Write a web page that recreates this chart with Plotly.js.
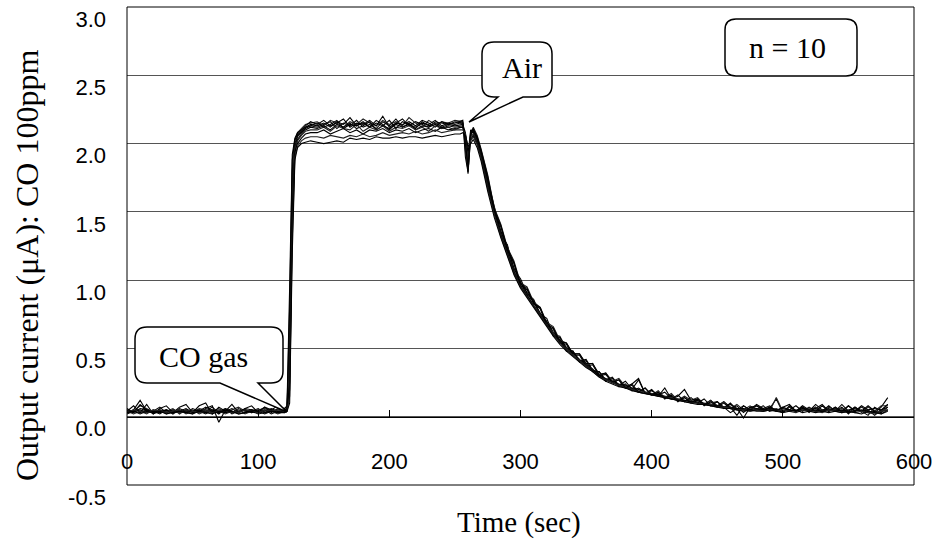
<!DOCTYPE html>
<html>
<head>
<meta charset="utf-8">
<script src="https://cdn.plot.ly/plotly-3.0.1.min.js"></script>
<style>html,body{margin:0;padding:0;background:#fff;}#chart{width:936px;height:542px;}</style>
</head>
<body>
<div id="chart"></div>
<script>
// Time (sec)
const timeSec = [0,5,10,15,20,25,30,35,40,45,50,55,60,65,70,75,80,85,90,95,100,105,110,115,120,
122,124,126,128,130,133,136,140,
145,150,155,160,165,170,175,180,185,190,195,200,205,210,215,220,225,230,235,240,245,250,254,
256,258,260,262,264,267,270,
275,280,285,290,295,300,305,310,315,320,325,330,335,340,345,350,355,360,365,370,375,380,385,390,395,400,405,410,415,420,425,430,435,440,445,450,455,460,465,470,475,480,485,490,495,500,505,510,515,520,525,530,535,540,545,550,555,560,565,570,575,580];

// Output current (uA), ten runs
const run1 = [0.03,0.05,0.12,0.04,0.03,0.05,0.02,0.04,0.03,0.05,0.04,0.03,0.06,0.08,-0.04,0.05,0.03,0.06,0.04,0.05,0.03,0.04,0.06,0.04,0.05,
0.06,0.45,1.70,2.00,2.06,2.09,2.12,2.14,
2.13,2.15,2.12,2.16,2.14,2.19,2.13,2.15,2.12,2.17,2.14,2.10,2.15,2.18,2.13,2.16,2.14,2.12,2.16,2.15,2.14,2.16,2.15,
2.15,2.02,1.78,2.06,2.11,2.04,1.94,
1.73,1.55,1.35,1.25,1.08,1.01,0.90,0.86,0.75,0.72,0.60,0.59,0.50,0.48,0.41,0.42,0.34,0.33,0.27,0.29,0.23,0.26,0.20,0.27,0.17,0.19,0.16,0.18,0.13,0.15,0.20,0.12,0.13,0.09,0.12,0.08,0.11,0.07,0.01,0.08,0.05,0.08,0.05,0.06,0.13,0.03,0.07,0.04,0.08,0.05,0.06,0.09,0.04,0.07,0.03,0.08,0.04,0.07,0.04,0.03,0.07,0.14];
const run2 = [0.04,0.03,0.06,0.05,0.02,0.04,0.05,0.03,0.06,0.04,0.02,0.05,0.04,0.07,0.03,0.04,0.06,0.03,0.05,0.04,0.06,0.03,0.05,0.03,0.04,
0.05,0.30,1.55,1.97,2.05,2.08,2.11,2.13,
2.12,2.14,2.16,2.11,2.15,2.13,2.17,2.12,2.14,2.11,2.16,2.13,2.18,2.12,2.14,2.11,2.16,2.13,2.15,2.12,2.14,2.13,2.14,
2.14,2.08,1.92,2.10,2.08,2.02,1.92,
1.68,1.52,1.33,1.26,1.06,0.99,0.88,0.85,0.74,0.70,0.59,0.58,0.48,0.48,0.40,0.41,0.33,0.33,0.26,0.28,0.22,0.24,0.19,0.21,0.18,0.16,0.17,0.14,0.15,0.12,0.14,0.11,0.12,0.09,0.10,0.11,0.07,0.09,0.06,-0.01,0.07,0.06,0.04,0.07,0.05,0.03,0.08,0.04,0.07,0.03,0.07,0.04,0.08,0.04,0.07,0.02,0.07,0.04,0.01,0.07,0.04,0.09];
const run3 = [0.05,0.04,0.08,0.06,0.03,0.05,0.04,0.06,0.02,0.05,0.03,0.06,0.05,0.04,0.06,0.03,0.05,0.07,0.04,0.03,0.05,0.06,0.04,0.05,0.06,
0.07,0.60,1.80,2.02,2.08,2.11,2.14,2.15,
2.16,2.13,2.17,2.15,2.12,2.16,2.14,2.18,2.15,2.13,2.17,2.14,2.16,2.13,2.19,2.15,2.12,2.17,2.14,2.16,2.15,2.17,2.16,
2.16,1.95,1.80,2.04,2.12,2.06,1.96,
1.77,1.53,1.41,1.24,1.14,0.98,0.95,0.84,0.80,0.69,0.66,0.56,0.54,0.46,0.46,0.38,0.39,0.30,0.32,0.26,0.28,0.22,0.24,0.18,0.21,0.16,0.19,0.14,0.17,0.12,0.15,0.12,0.14,0.09,0.12,0.07,0.11,0.06,0.09,0.05,0.08,0.05,0.08,0.04,0.14,0.04,0.07,0.04,0.07,0.05,0.07,0.04,0.07,0.05,0.06,0.04,0.07,0.03,0.07,0.04,0.08,0.08];
const run4 = [0.02,0.04,0.05,0.03,0.04,0.02,0.05,0.03,0.04,0.06,0.03,0.04,0.02,0.05,0.04,0.06,0.02,0.04,0.05,0.03,0.04,0.05,0.02,0.04,0.03,
0.04,0.20,1.40,1.93,2.03,2.07,2.10,2.12,
2.11,2.13,2.10,2.14,2.12,2.15,2.11,2.13,2.16,2.10,2.13,2.11,2.14,2.12,2.15,2.10,2.13,2.12,2.14,2.11,2.13,2.12,2.13,
2.13,2.05,1.85,2.07,2.09,2.03,1.93,
1.71,1.51,1.36,1.22,1.09,0.98,0.91,0.84,0.76,0.69,0.62,0.56,0.51,0.47,0.42,0.38,0.35,0.30,0.28,0.26,0.24,0.23,0.21,0.20,0.18,0.17,0.16,0.15,0.14,0.13,0.12,0.11,0.11,0.10,0.09,0.08,0.07,0.03,0.06,0.06,0.05,0.06,0.05,0.06,0.05,0.06,0.05,0.04,0.06,0.05,0.06,0.04,0.05,0.06,0.04,0.05,0.06,0.04,0.05,0.01,0.05,0.07];
const run5 = [0.06,0.03,0.09,0.05,0.04,0.07,0.03,0.05,0.04,0.03,0.06,0.04,0.07,0.05,0.02,0.06,0.04,0.03,0.06,0.05,0.04,0.07,0.03,0.06,0.05,
0.06,0.80,1.88,2.03,2.07,2.10,2.13,2.16,
2.14,2.17,2.13,2.15,2.18,2.12,2.15,2.14,2.17,2.13,2.20,2.12,2.15,2.14,2.16,2.13,2.17,2.15,2.12,2.16,2.14,2.15,2.16,
2.17,1.90,1.79,2.08,2.10,2.05,1.95,
1.76,1.52,1.40,1.23,1.13,0.97,0.94,0.83,0.80,0.68,0.65,0.55,0.54,0.46,0.46,0.39,0.39,0.31,0.32,0.25,0.27,0.21,0.24,0.28,0.17,0.20,0.15,0.21,0.13,0.16,0.11,0.14,0.10,0.13,0.08,0.11,0.06,0.10,0.05,0.08,0.05,0.09,0.06,0.08,0.04,0.07,0.09,0.04,0.07,0.04,0.09,0.05,0.06,0.04,0.09,0.04,0.07,0.04,0.08,0.04,0.03,0.07];
const run6 = [0.03,0.05,0.04,0.02,0.05,0.03,0.04,0.05,0.03,0.04,0.05,0.02,0.04,0.03,0.05,0.04,0.03,0.05,0.02,0.04,0.05,0.03,0.04,0.05,0.04,
0.05,0.35,1.60,1.96,2.02,2.06,2.09,2.10,
2.10,2.12,2.09,2.13,2.11,2.10,2.14,2.09,2.12,2.10,2.13,2.09,2.12,2.11,2.13,2.10,2.12,2.09,2.13,2.11,2.12,2.10,2.12,
2.12,2.04,1.88,2.05,2.07,2.01,1.92,
1.69,1.49,1.34,1.21,1.07,0.96,0.89,0.82,0.75,0.68,0.61,0.55,0.50,0.45,0.41,0.38,0.34,0.30,0.27,0.25,0.23,0.22,0.20,0.19,0.18,0.17,0.15,0.15,0.14,0.13,0.12,0.11,0.10,0.09,0.09,0.08,0.07,0.07,0.06,0.05,0.06,0.05,0.04,0.05,0.06,0.04,0.05,0.04,0.05,0.06,0.04,0.05,0.04,0.05,0.04,0.03,0.05,0.04,0.03,0.02,0.04,0.05];
const run7 = [0.04,0.08,0.03,0.09,0.02,0.06,0.08,0.03,0.07,0.09,0.03,0.08,0.10,0.02,0.07,0.04,0.09,0.03,0.06,0.08,0.03,0.07,0.05,0.08,0.06,
0.08,0.95,1.92,2.04,2.08,2.10,2.12,2.13,
2.15,2.12,2.14,2.17,2.11,2.14,2.13,2.16,2.12,2.15,2.13,2.17,2.11,2.16,2.14,2.12,2.15,2.14,2.17,2.13,2.15,2.14,2.15,
2.15,2.00,1.83,2.09,2.11,2.04,1.94,
1.74,1.50,1.39,1.22,1.12,0.96,0.93,0.83,0.79,0.67,0.64,0.54,0.53,0.45,0.45,0.37,0.38,0.30,0.31,0.25,0.27,0.21,0.23,0.18,0.21,0.16,0.18,0.13,0.16,0.11,0.14,0.10,0.13,0.08,0.11,0.07,0.10,0.06,0.08,0.03,0.07,0.08,0.05,0.07,0.04,0.07,0.05,0.08,0.04,0.07,0.04,0.08,0.04,0.07,0.04,0.08,0.04,0.08,0.05,0.06,0.05,0.09];
const run8 = [0.03,0.04,0.03,0.05,0.04,0.03,0.05,0.02,0.05,0.03,0.04,0.05,0.03,0.04,0.03,0.05,0.04,0.02,0.03,0.05,0.04,0.02,0.04,0.03,0.04,
0.05,0.25,1.50,1.94,2.00,2.04,2.07,2.08,
2.08,2.10,2.07,2.09,2.11,2.08,2.10,2.07,2.10,2.09,2.11,2.08,2.10,2.09,2.11,2.08,2.10,2.11,2.09,2.12,2.10,2.11,2.12,
2.12,2.06,1.95,2.03,2.06,2.00,1.90,
1.68,1.50,1.33,1.20,1.06,0.95,0.89,0.81,0.74,0.67,0.60,0.55,0.49,0.45,0.41,0.37,0.34,0.30,0.27,0.25,0.23,0.21,0.20,0.18,0.17,0.16,0.16,0.14,0.13,0.12,0.12,0.11,0.10,0.09,0.08,0.08,0.07,0.06,0.06,0.05,0.04,0.05,0.06,0.04,0.05,0.04,0.05,0.04,0.06,0.04,0.05,0.04,0.05,0.04,0.05,0.03,0.04,0.05,0.03,0.04,0.02,0.05];
const run9 = [0.04,0.02,0.04,0.03,0.05,0.04,0.03,0.04,0.05,0.02,0.04,0.03,0.05,0.03,0.04,0.02,0.04,0.03,0.05,0.04,0.03,0.05,0.04,0.02,0.04,
0.04,0.15,1.30,1.90,1.98,2.02,2.04,2.05,
2.05,2.04,2.06,2.05,2.04,2.06,2.05,2.07,2.05,2.06,2.08,2.06,2.07,2.08,2.07,2.09,2.07,2.08,2.10,2.08,2.09,2.10,2.10,
2.10,2.07,1.97,2.02,2.05,1.99,1.89,
1.67,1.48,1.32,1.19,1.05,0.95,0.88,0.81,0.74,0.67,0.60,0.54,0.49,0.45,0.41,0.37,0.33,0.29,0.27,0.25,0.23,0.21,0.20,0.18,0.17,0.16,0.15,0.14,0.13,0.12,0.11,0.10,0.10,0.09,0.08,0.07,0.07,0.06,0.05,0.05,0.04,0.05,0.04,0.05,0.04,0.05,0.04,0.03,0.05,0.04,0.04,0.03,0.05,0.04,0.03,0.04,0.03,0.04,0.03,0.03,0.04,0.05];
const run10 = [0.03,0.04,0.02,0.04,0.03,0.04,0.02,0.03,0.04,0.03,0.02,0.04,0.03,0.02,0.04,0.03,0.04,0.02,0.03,0.04,0.02,0.03,0.04,0.03,0.03,
0.04,0.10,1.20,1.88,1.97,2.00,2.01,2.02,
2.01,2.00,2.01,2.02,2.01,2.04,2.03,2.04,2.03,2.05,2.04,2.04,2.05,2.04,2.05,2.05,2.04,2.05,2.06,2.05,2.06,2.07,2.07,
2.08,2.06,1.98,2.00,2.03,1.97,1.87,
1.65,1.46,1.31,1.18,1.04,0.94,0.87,0.80,0.73,0.66,0.59,0.53,0.48,0.44,0.40,0.36,0.33,0.29,0.26,0.24,0.22,0.21,0.19,0.18,0.17,0.16,0.15,0.14,0.13,0.12,0.11,0.10,0.09,0.09,0.08,0.07,0.06,0.06,0.05,0.04,0.05,0.04,0.04,0.05,0.04,0.03,0.04,0.05,0.03,0.04,0.03,0.04,0.03,0.04,0.03,0.04,0.03,0.02,0.04,0.03,0.02,0.04];

const runs = [run1,run2,run3,run4,run5,run6,run7,run8,run9,run10];
const xTickVals = [0,100,200,300,400,500,600];
const xTickText = ['0','100','200','300','400','500','600'];
const yTickVals = [-0.5,0,0.5,1,1.5,2,2.5,3];
const yTickText = ['-0.5','0.0','0.5','1.0','1.5','2.0','2.5','3.0'];

const xTitle = 'Time (sec)';
const yTitle = 'Output current (μA): CO 100ppm';
const labelCO = 'CO gas';
const labelAir = 'Air';
const labelN = 'n = 10';

// plot area in pixels
const L = 127, R = 914, T = 7, B = 485;
function P(px, py){ return ((px - L)/(R - L)).toFixed(5) + ',' + ((B - py)/(B - T)).toFixed(5); }
function PX(px){ return (px - L)/(R - L); }
function PY(py){ return (B - py)/(B - T); }

const traces = runs.map((r, i) => ({
  x: timeSec, y: r, type: 'scatter', mode: 'lines',
  line: {color: i % 3 === 2 ? '#222' : '#000', width: 1.1},
  hoverinfo: 'skip', showlegend: false
}));

const serif = '"Liberation Serif", "DejaVu Serif", serif';
const sans = '"Liberation Sans", Arial, sans-serif';

const coPath = 'M' + P(147,327) + ' L' + P(271,327) + ' Q' + P(283,327) + ' ' + P(283,339) +
  ' L' + P(283,371) + ' Q' + P(283,383) + ' ' + P(271,383) + ' L' + P(258,383) + ' L' + P(287,412) +
  ' L' + P(220,383) + ' L' + P(147,383) + ' Q' + P(135,383) + ' ' + P(135,371) + ' L' + P(135,339) +
  ' Q' + P(135,327) + ' ' + P(147,327) + ' Z';
const airPath = 'M' + P(494,42) + ' L' + P(540,42) + ' Q' + P(552,42) + ' ' + P(552,54) +
  ' L' + P(552,85) + ' Q' + P(552,97) + ' ' + P(540,97) + ' L' + P(523,97) + ' L' + P(469,122) +
  ' L' + P(498,97) + ' L' + P(494,97) + ' Q' + P(482,97) + ' ' + P(482,85) + ' L' + P(482,54) +
  ' Q' + P(482,42) + ' ' + P(494,42) + ' Z';
const nPath = 'M' + P(736,19) + ' L' + P(846,19) + ' Q' + P(857,19) + ' ' + P(857,30) +
  ' L' + P(857,65) + ' Q' + P(857,76) + ' ' + P(846,76) + ' L' + P(736,76) + ' Q' + P(725,76) + ' ' + P(725,65) +
  ' L' + P(725,30) + ' Q' + P(725,19) + ' ' + P(736,19) + ' Z';

const layout = {
  width: 936, height: 542,
  margin: {l: L, r: 936 - R, t: T, b: 542 - B},
  paper_bgcolor: '#fff', plot_bgcolor: '#fff',
  showlegend: false,
  xaxis: {
    range: [0, 600], tickvals: xTickVals, ticktext: xTickText,
    anchor: 'free', position: 0.5/3.5,
    showline: true, linecolor: '#000', linewidth: 1,
    ticks: 'inside', ticklen: 7, tickcolor: '#000', tickwidth: 1,
    showgrid: false, zeroline: false,
    tickfont: {family: sans, size: 22, color: '#000'},
    ticklabelstandoff: 25
  },
  yaxis: {
    range: [-0.50001, 3.00001], tickvals: yTickVals, ticktext: yTickText,
    showgrid: true, gridcolor: '#555', gridwidth: 1,
    zeroline: false, showline: false, ticks: '',
    tickfont: {family: sans, size: 22, color: '#000'},
    ticklabelstandoff: 20, ticklabelshift: 12
  },
  shapes: [
    {type: 'rect', xref: 'paper', yref: 'paper', x0: 0, x1: 1, y0: 0, y1: 1,
     line: {color: '#000', width: 1}, fillcolor: 'rgba(0,0,0,0)', layer: 'above'},
    {type: 'path', xref: 'paper', yref: 'paper', path: coPath, fillcolor: '#fff',
     line: {color: '#000', width: 1.5}, layer: 'above'},
    {type: 'path', xref: 'paper', yref: 'paper', path: airPath, fillcolor: '#fff',
     line: {color: '#000', width: 1.5}, layer: 'above'},
    {type: 'path', xref: 'paper', yref: 'paper', path: nPath, fillcolor: '#fff',
     line: {color: '#000', width: 1.5}, layer: 'above'}
  ],
  annotations: [
    {text: labelCO, xref: 'paper', yref: 'paper', x: PX(203), y: PY(356), showarrow: false,
     xanchor: 'center', yanchor: 'middle', font: {family: serif, size: 30, color: '#000'}},
    {text: labelAir, xref: 'paper', yref: 'paper', x: PX(522), y: PY(68), showarrow: false,
     xanchor: 'center', yanchor: 'middle', font: {family: serif, size: 30, color: '#000'}},
    {text: labelN, xref: 'paper', yref: 'paper', x: PX(787), y: PY(48), showarrow: false,
     xanchor: 'center', yanchor: 'middle', font: {family: serif, size: 30, color: '#000'}},
    {text: xTitle, xref: 'paper', yref: 'paper', x: PX(519), y: PY(522), showarrow: false,
     xanchor: 'center', yanchor: 'middle', font: {family: serif, size: 29, color: '#000'}},
    {text: yTitle, xref: 'paper', yref: 'paper', x: PX(27), y: PY(266), showarrow: false,
     textangle: -90, xanchor: 'center', yanchor: 'middle', font: {family: serif, size: 32, color: '#000'}}
  ]
};

Plotly.newPlot('chart', traces, layout, {displayModeBar: false, staticPlot: true});
</script>
</body>
</html>
